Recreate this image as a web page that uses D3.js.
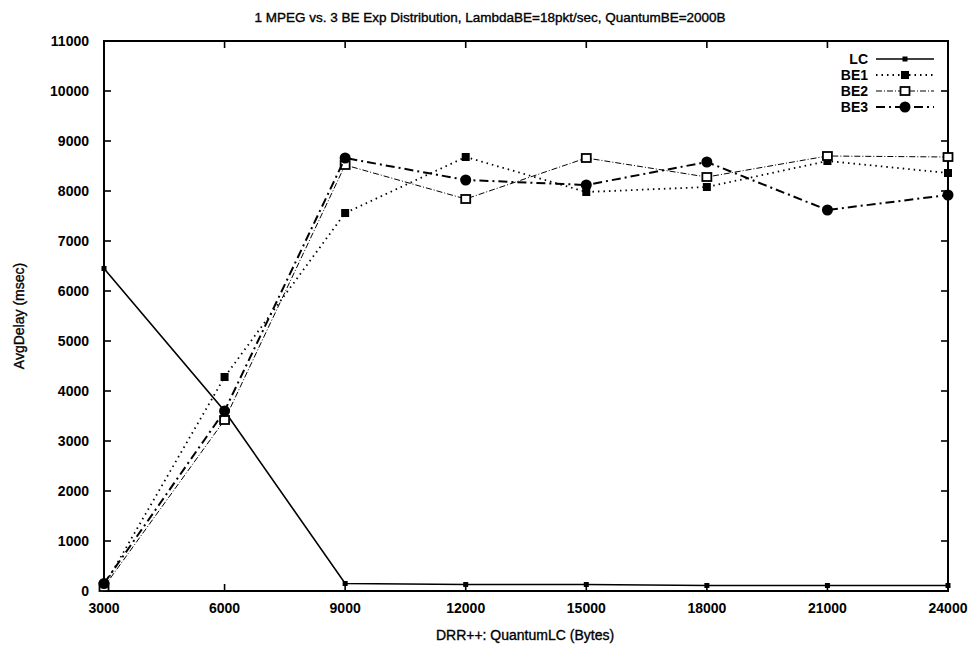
<html>
<head>
  <script src="https://d3js.org/d3.v7.min.js"></script>
  <style>
    body { margin: 0; background: #fff; }
    text { font-family: "Liberation Sans", Arial, Helvetica, sans-serif; fill: #000; }
  </style>
</head>
<body>
<svg id="chart" width="980" height="651"></svg>
<script>
// x values (DRR++ QuantumLC, bytes)
var quantum = [3000, 6000, 9000, 12000, 15000, 18000, 21000, 24000]
// avg delay per series (msec)
var lc  = [6450, 3600, 150, 130, 130, 110, 110, 110]
var be1 = [100, 4280, 7560, 8680, 7980, 8080, 8600, 8360]
var be2 = [80, 3420, 8520, 7840, 8660, 8280, 8700, 8680]
var be3 = [150, 3600, 8660, 8220, 8120, 8580, 7620, 7920]
var xTicks = [3000, 6000, 9000, 12000, 15000, 18000, 21000, 24000]
var yTicks = d3.range(0, 11001, 1000)

var series = [
  { name: 'LC',  values: lc,  dash: null,        width: 1.6, marker: 'plus' },
  { name: 'BE1', values: be1, dash: '1.5,4',     width: 1.8, marker: 'fsquare' },
  { name: 'BE2', values: be2, dash: '6,2,1,2',   width: 1,   marker: 'osquare' },
  { name: 'BE3', values: be3, dash: '9,4,2,4',   width: 2,   marker: 'circle' }
]

var margin = { left: 104, right: 32, top: 41, bottom: 60 }
var W = 980, H = 651
var svg = d3.select('#chart')

var x = d3.scaleLinear().domain([3000, 24000]).range([margin.left, W - margin.right])
var y = d3.scaleLinear().domain([0, 11000]).range([H - margin.bottom, margin.top])

// frame
svg.append('rect')
  .attr('x', x(3000)).attr('y', y(11000))
  .attr('width', x(24000) - x(3000)).attr('height', y(0) - y(11000))
  .attr('fill', 'none').attr('stroke', '#000').attr('stroke-width', 2)

// ticks, gnuplot style: inward, mirrored
var tl = 7
var g = svg.append('g').attr('stroke', '#000').attr('stroke-width', 1.6)
yTicks.forEach(function (v) {
  g.append('line').attr('x1', x(3000)).attr('x2', x(3000) + tl).attr('y1', y(v)).attr('y2', y(v))
  g.append('line').attr('x1', x(24000)).attr('x2', x(24000) - tl).attr('y1', y(v)).attr('y2', y(v))
})
xTicks.forEach(function (v) {
  g.append('line').attr('x1', x(v)).attr('x2', x(v)).attr('y1', y(0)).attr('y2', y(0) - tl)
  g.append('line').attr('x1', x(v)).attr('x2', x(v)).attr('y1', y(11000)).attr('y2', y(11000) + tl)
})

svg.append('g').selectAll('text').data(yTicks).enter().append('text')
  .attr('x', x(3000) - 15).attr('y', function (d) { return y(d) + 5 })
  .attr('text-anchor', 'end').attr('font-size', 14).attr('font-weight', 'bold')
  .text(function (d) { return d })

svg.append('g').selectAll('text').data(xTicks).enter().append('text')
  .attr('x', function (d) { return x(d) }).attr('y', y(0) + 22)
  .attr('text-anchor', 'middle').attr('font-size', 14).attr('font-weight', 'bold')
  .text(function (d) { return d })

svg.append('text').attr('x', 490).attr('y', 22).attr('text-anchor', 'middle')
  .attr('font-size', 13.5).attr('stroke', '#000').attr('stroke-width', 0.35)
  .text('1 MPEG vs. 3 BE Exp Distribution, LambdaBE=18pkt/sec, QuantumBE=2000B')

svg.append('text').attr('x', 525).attr('y', 640).attr('text-anchor', 'middle')
  .attr('font-size', 14).attr('stroke', '#000').attr('stroke-width', 0.35)
  .text('DRR++: QuantumLC (Bytes)')

svg.append('text').attr('transform', 'translate(24,316) rotate(-90)').attr('text-anchor', 'middle')
  .attr('font-size', 14).attr('stroke', '#000').attr('stroke-width', 0.35)
  .text('AvgDelay (msec)')

function drawMarker (sel, type, cx, cy) {
  if (type === 'plus') {
    sel.append('rect').attr('x', cx - 2.5).attr('y', cy - 2.5).attr('width', 5).attr('height', 5).attr('fill', '#000')
  } else if (type === 'fsquare') {
    sel.append('rect').attr('x', cx - 4).attr('y', cy - 4).attr('width', 8).attr('height', 8).attr('fill', '#000')
  } else if (type === 'osquare') {
    sel.append('rect').attr('x', cx - 4.5).attr('y', cy - 4).attr('width', 9).attr('height', 8)
      .attr('fill', '#fff').attr('stroke', '#000').attr('stroke-width', 1.8)
  } else {
    sel.append('circle').attr('cx', cx).attr('cy', cy).attr('r', 5.5).attr('fill', '#000')
  }
}

var line = d3.line().x(function (d) { return x(d[0]) }).y(function (d) { return y(d[1]) })

series.forEach(function (s) {
  var pts = quantum.map(function (q, i) { return [q, s.values[i]] })
  svg.append('path').datum(pts).attr('d', line)
    .attr('fill', 'none').attr('stroke', '#000').attr('stroke-width', s.width)
    .attr('stroke-dasharray', s.dash)
  var mg = svg.append('g')
  pts.forEach(function (p) { drawMarker(mg, s.marker, x(p[0]), y(p[1])) })
})

// legend
var lx0 = 876, lx1 = 934, ly = 59
series.forEach(function (s, i) {
  var yy = ly + i * 16
  svg.append('text').attr('x', lx0 - 8).attr('y', yy + 5).attr('text-anchor', 'end')
    .attr('font-size', 14).attr('font-weight', 'bold').text(s.name)
  svg.append('line').attr('x1', lx0).attr('x2', lx1).attr('y1', yy).attr('y2', yy)
    .attr('stroke', '#000').attr('stroke-width', s.width).attr('stroke-dasharray', s.dash)
  drawMarker(svg, s.marker, (lx0 + lx1) / 2, yy)
})
</script>
</body>
</html>
